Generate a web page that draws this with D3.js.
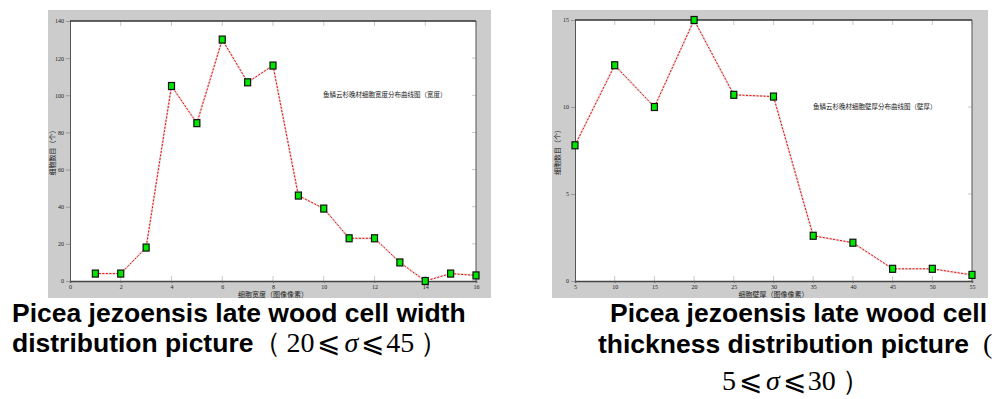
<!DOCTYPE html>
<html>
<head>
<meta charset="utf-8">
<script src="https://cdn.jsdelivr.net/npm/d3@7"></script>
<style>
  html, body { margin: 0; padding: 0; background: #fff; }
  svg { display: block; }
</style>
</head>
<body>
<svg id="chart" width="999" height="399"></svg>
<script>
// left chart: late wood cell width
const widthX = [1, 2, 3, 4, 5, 6, 7, 8, 9, 10, 11, 12, 13, 14, 15, 16];
const widthCount = [4, 4, 18, 105, 85, 130, 107, 116, 46, 39, 23, 23, 10, 0, 4, 3];
const widthXTicks = [0, 2, 4, 6, 8, 10, 12, 14, 16];
const widthYTicks = [0, 20, 40, 60, 80, 100, 120, 140];

// right chart: late wood cell wall thickness
const thickX = [5, 10, 15, 20, 25, 30, 35, 40, 45, 50, 55];
const thickCount = [7.8, 12.4, 10, 15, 10.7, 10.6, 2.6, 2.2, 0.7, 0.7, 0.35];
const thickXTicks = [5, 10, 15, 20, 25, 30, 35, 40, 45, 50, 55];
const thickYTicks = [0, 5, 10, 15];

const svg = d3.select('#chart');
const cjk = '"Noto Sans CJK SC", "Noto Sans", sans-serif';

function drawPanel(opts) {
    const { panel, plot, xDomain, yDomain, xs, ys, xTicks, yTicks, note, xLabel, yLabel } = opts;

    // grey figure background
    svg.append('rect')
        .attr('x', panel.x).attr('y', panel.y)
        .attr('width', panel.w).attr('height', panel.h)
        .attr('fill', '#cccccc');

    const x = d3.scaleLinear().domain(xDomain).range([plot.x0, plot.x1]);
    const y = d3.scaleLinear().domain(yDomain).range([plot.y1, plot.y0]);

    svg.append('rect')
        .attr('x', plot.x0).attr('y', plot.y0)
        .attr('width', plot.x1 - plot.x0).attr('height', plot.y1 - plot.y0)
        .attr('fill', '#fff');

    // faint inner ticks (matlab style box)
    const inner = svg.append('g').attr('stroke', '#c8c8c8').attr('stroke-width', 1);
    xTicks.forEach(t => {
        inner.append('line').attr('x1', x(t)).attr('x2', x(t)).attr('y1', plot.y1).attr('y2', plot.y1 - 5);
        inner.append('line').attr('x1', x(t)).attr('x2', x(t)).attr('y1', plot.y0).attr('y2', plot.y0 + 5);
    });
    yTicks.forEach(t => {
        inner.append('line').attr('x1', plot.x1).attr('x2', plot.x1 - 4).attr('y1', y(t)).attr('y2', y(t));
    });

    const xAxis = svg.append('g')
        .attr('transform', `translate(0,${plot.y1})`)
        .call(d3.axisBottom(x).tickValues(xTicks).tickSize(2).tickPadding(2))
        .call(g => g.select('.domain').attr('stroke', '#444').attr('stroke-width', 1.5));
    xAxis.selectAll('text').attr('font-size', '6px').attr('font-family', 'Liberation Serif, serif').attr('fill', '#222');
    xAxis.selectAll('line').attr('stroke', '#666');

    const yAxis = svg.append('g')
        .attr('transform', `translate(${plot.x0},0)`)
        .call(d3.axisLeft(y).tickValues(yTicks).tickSize(4).tickPadding(2))
        .call(g => g.select('.domain').attr('stroke', '#555').attr('stroke-width', 1));
    yAxis.selectAll('text').attr('font-size', '6px').attr('font-family', 'Liberation Serif, serif').attr('fill', '#222');
    yAxis.selectAll('line').attr('stroke', '#999');

    // box top and right
    svg.append('line').attr('x1', plot.x0).attr('x2', plot.x1).attr('y1', plot.y0).attr('y2', plot.y0)
        .attr('stroke', '#333').attr('stroke-width', 1.5);
    svg.append('line').attr('x1', plot.x1).attr('x2', plot.x1).attr('y1', plot.y0).attr('y2', plot.y1)
        .attr('stroke', '#555').attr('stroke-width', 1);

    const pts = xs.map((v, i) => [v, ys[i]]);
    const line = d3.line().x(d => x(d[0])).y(d => y(d[1]));

    svg.append('path').datum(pts)
        .attr('d', line)
        .attr('fill', 'none')
        .attr('stroke', '#e2e2e2')
        .attr('stroke-width', 2.2);
    svg.append('path').datum(pts)
        .attr('d', line)
        .attr('fill', 'none')
        .attr('stroke', '#ff0000')
        .attr('stroke-width', 1)
        .attr('stroke-dasharray', '2,1.5');

    svg.append('g').selectAll('rect')
        .data(pts)
        .join('rect')
        .attr('x', d => x(d[0]) - 3)
        .attr('y', d => y(d[1]) - 3.5)
        .attr('width', 6)
        .attr('height', 7)
        .attr('fill', '#00e600')
        .attr('stroke', '#111')
        .attr('stroke-width', 1.2);

    svg.append('text')
        .attr('x', note.x).attr('y', note.y)
        .attr('font-family', cjk).attr('font-size', '6.5px').attr('fill', '#222')
        .text(note.text);

    svg.append('text')
        .attr('x', (plot.x0 + plot.x1) / 2).attr('y', plot.y1 + 16)
        .attr('text-anchor', 'middle')
        .attr('font-family', cjk).attr('font-size', '7px').attr('fill', '#222')
        .text(xLabel);

    svg.append('text')
        .attr('transform', `translate(${yLabel.x},${(plot.y0 + plot.y1) / 2}) rotate(-90)`)
        .attr('text-anchor', 'middle')
        .attr('font-family', cjk).attr('font-size', '7px').attr('fill', '#222')
        .text(yLabel.text);
}

drawPanel({
    panel: { x: 48, y: 10, w: 443, h: 288 },
    plot: { x0: 70, x1: 476, y0: 21, y1: 281 },
    xDomain: [0, 16], yDomain: [0, 140],
    xs: widthX, ys: widthCount,
    xTicks: widthXTicks, yTicks: widthYTicks,
    note: { x: 323, y: 97, text: '鱼鳞云杉晚材细胞宽度分布曲线图（宽度）' },
    xLabel: '细胞宽度（图像像素）',
    yLabel: { x: 55, text: '细胞数目（个）' }
});

drawPanel({
    panel: { x: 552, y: 10, w: 436, h: 288 },
    plot: { x0: 575, x1: 972, y0: 20, y1: 281 },
    xDomain: [5, 55], yDomain: [0, 15],
    xs: thickX, ys: thickCount,
    xTicks: thickXTicks, yTicks: thickYTicks,
    note: { x: 813, y: 109, text: '鱼鳞云杉晚材细胞壁厚分布曲线图（壁厚）' },
    xLabel: '细胞壁厚（图像像素）',
    yLabel: { x: 560, text: '细胞数目（个）' }
});

// captions
const bold = 'font-family: "Liberation Sans", Arial, sans-serif; font-weight: bold; font-size: 26.5px;';
const serif = 'font-family: "Liberation Serif", "DejaVu Serif", "Times New Roman", serif; font-weight: normal; font-size: 28px;';

function caption(xPos, yPos, parts) {
    const t = svg.append('text').attr('x', xPos).attr('y', yPos).attr('fill', '#000');
    parts.forEach(p => {
        t.append('tspan')
            .attr('style', p.style)
            .attr('dx', p.dx || null)
            .attr('font-style', p.italic ? 'italic' : null)
            .text(p.text);
    });
}

caption(12, 322, [{ text: 'Picea jezoensis late wood cell width', style: bold }]);
caption(12, 352, [
    { text: 'distribution picture', style: bold },
    { text: '（', style: serif },
    { text: '20', style: serif, dx: 5 },
    { text: '⩽', style: serif, dx: 3 },
    { text: 'σ', style: serif, italic: true, dx: 4 },
    { text: '⩽', style: serif, dx: 3 },
    { text: '45', style: serif, dx: 2 },
    { text: '）', style: serif, dx: 6 }
]);

caption(610, 322, [{ text: 'Picea jezoensis late wood cell', style: bold }]);
caption(598, 353, [
    { text: 'thickness distribution picture', style: bold },
    { text: '(', style: serif, dx: 14 }
]);
caption(722, 390, [
    { text: '5', style: serif },
    { text: '⩽', style: serif, dx: 3 },
    { text: 'σ', style: serif, italic: true, dx: 4 },
    { text: '⩽', style: serif, dx: 3 },
    { text: '30', style: serif, dx: 2 },
    { text: '）', style: serif, dx: 6 }
]);
</script>
</body>
</html>
